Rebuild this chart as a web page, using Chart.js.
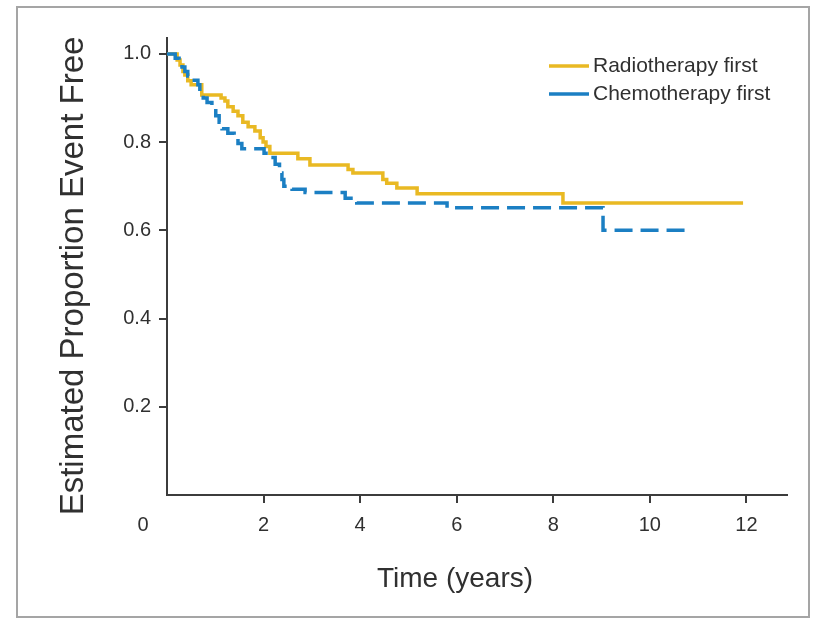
<!DOCTYPE html>
<html>
<head>
<meta charset="utf-8">
<title>Event-free survival</title>
<script src="https://cdn.jsdelivr.net/npm/chart.js@4.4.1/dist/chart.umd.min.js"></script>
<style>
  html, body { margin: 0; padding: 0; background: #fff; }
  #wrap { position: relative; width: 816px; height: 620px; overflow: hidden; }
  #frame { position: absolute; left: 16px; top: 6px; width: 790px; height: 608px; border: 2px solid #a5a5a5; pointer-events: none; }
  #wrap canvas { position: absolute; left: 0; top: 0; }
</style>
</head>
<body>
<div id="wrap">
  <canvas id="efs"></canvas>
  <div id="frame"></div>
</div>
<script>
// Kaplan-Meier estimates, read as (time in years, proportion event free) steps
const rtTimes = [0, 0.21, 0.27, 0.33, 0.37, 0.43, 0.5, 0.72, 1.12, 1.2, 1.26, 1.37, 1.47, 1.57, 1.68, 1.82, 1.93, 1.99, 2.05, 2.13, 2.71, 2.96, 3.75, 3.85, 4.47, 4.55, 4.76, 5.18, 8.2, 11.93];
const rtSurv  = [1.0, 0.986, 0.975, 0.96, 0.952, 0.939, 0.93, 0.907, 0.9, 0.893, 0.88, 0.87, 0.86, 0.845, 0.835, 0.825, 0.81, 0.8, 0.79, 0.775, 0.762, 0.748, 0.738, 0.73, 0.715, 0.707, 0.696, 0.683, 0.662, 0.662];

const ctTimes = [0, 0.17, 0.25, 0.31, 0.37, 0.43, 0.52, 0.64, 0.68, 0.75, 0.83, 0.93, 1.01, 1.08, 1.14, 1.26, 1.39, 1.47, 1.55, 2.01, 2.13, 2.24, 2.33, 2.38, 2.42, 2.59, 2.86, 3.69, 3.93, 5.8, 9.03, 10.77];
const ctSurv  = [1.0, 0.99, 0.98, 0.97, 0.96, 0.95, 0.94, 0.93, 0.915, 0.9, 0.89, 0.875, 0.86, 0.845, 0.83, 0.82, 0.81, 0.797, 0.785, 0.775, 0.765, 0.75, 0.73, 0.715, 0.70, 0.693, 0.686, 0.673, 0.662, 0.651, 0.60, 0.60];

const seriesNames = ["Radiotherapy first", "Chemotherapy first"];
const xTicks = [2, 4, 6, 8, 10, 12];
const yTicks = [0.2, 0.4, 0.6, 0.8, 1.0];
const xTitle = "Time (years)";
const yTitle = "Estimated Proportion Event Free";

const FONT = "'Liberation Sans', Arial, sans-serif";
const INK = "#303030";
const AXIS = "#3c3c3c";
const GOLD = "#E9B923";
const BLUE = "#1B7FC3";

const toPoints = (ts, ss) => ts.map((t, i) => ({ x: t, y: ss[i] }));

// axis captions, corner "0" and the inset legend
const captions = {
  id: "captions",
  afterDraw(chart) {
    const { ctx, chartArea, scales } = chart;
    ctx.save();
    ctx.fillStyle = INK;
    ctx.textAlign = "center";
    ctx.textBaseline = "middle";
    ctx.font = "20px " + FONT;
    ctx.fillText("0", chartArea.left - 24, scales.x.top + 30);
    ctx.font = "28px " + FONT;
    ctx.fillText(xTitle, chartArea.left + 288, scales.x.top + 84);

    ctx.save();
    ctx.translate(chartArea.left - 93, chartArea.top + 238);
    ctx.rotate(-Math.PI / 2);
    ctx.font = "33px " + FONT;
    ctx.fillText(yTitle, 0, 0);
    ctx.restore();

    ctx.textAlign = "left";
    ctx.font = "21px " + FONT;
    chart.data.datasets.forEach((ds, i) => {
      const y = chartArea.top + 28 + i * 28;
      const x0 = chartArea.right - 238;
      ctx.strokeStyle = ds.borderColor;
      ctx.lineWidth = 3.5;
      ctx.setLineDash([]);
      ctx.beginPath();
      ctx.moveTo(x0, y);
      ctx.lineTo(x0 + 40, y);
      ctx.stroke();
      ctx.fillText(ds.label, x0 + 44, y);
    });
    ctx.restore();
  }
};

new Chart(document.getElementById("efs"), {
  type: "line",
  data: {
    datasets: [
      {
        label: seriesNames[0],
        data: toPoints(rtTimes, rtSurv),
        borderColor: GOLD,
        borderWidth: 3.5,
        stepped: "before",
        pointRadius: 0,
        order: 1
      },
      {
        label: seriesNames[1],
        data: toPoints(ctTimes, ctSurv),
        borderColor: BLUE,
        borderWidth: 3.5,
        borderDash: [18, 8],
        stepped: "before",
        pointRadius: 0,
        order: 0
      }
    ]
  },
  options: {
    responsive: true,
    maintainAspectRatio: false,
    animation: false,
    layout: { padding: { top: 38, right: 29, bottom: 0, left: 0 } },
    plugins: {
      legend: { display: false },
      tooltip: { enabled: false }
    },
    scales: {
      x: {
        type: "linear",
        min: 0,
        max: 12.84,
        afterBuildTicks: (scale) => { scale.ticks = xTicks.map(v => ({ value: v })); },
        afterFit: (scale) => { scale.height = 125; },
        grid: { drawOnChartArea: false, drawTicks: true, tickLength: 8, color: AXIS, lineWidth: 2 },
        border: { display: true, color: AXIS, width: 2 },
        ticks: { color: INK, font: { family: FONT, size: 20 }, padding: 10, maxRotation: 0 }
      },
      y: {
        type: "linear",
        min: 0,
        max: 1.036,
        afterBuildTicks: (scale) => { scale.ticks = yTicks.map(v => ({ value: v })); },
        afterFit: (scale) => { scale.width = 167; },
        grid: { drawOnChartArea: false, drawTicks: true, tickLength: 8, color: AXIS, lineWidth: 2 },
        border: { display: true, color: AXIS, width: 2 },
        ticks: {
          color: INK,
          font: { family: FONT, size: 20 },
          padding: 8,
          callback: (v) => v.toFixed(1)
        }
      }
    }
  },
  plugins: [captions]
});
</script>
</body>
</html>
